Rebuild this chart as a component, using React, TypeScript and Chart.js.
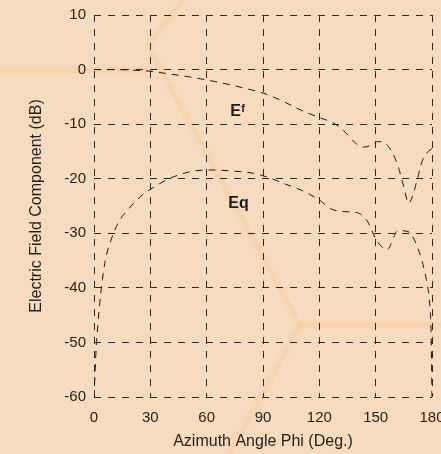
import React, { useEffect, useRef } from "react";
import { Chart, registerables } from "chart.js";

Chart.register(...registerables);

// ---- data ----
const xTickValues = [0, 30, 60, 90, 120, 150, 180];
const yTickValues = [10, 0, -10, -20, -30, -40, -50, -60];

const efPhi = [0, 10, 20, 30, 40, 50, 60, 70, 80, 90, 100, 110, 120, 127, 132, 136, 140, 144, 148, 151, 155, 159, 162, 165, 167.5, 170, 172, 175, 178, 180];
const efVal = [0, 0, -0.1, -0.3, -0.8, -1.3, -1.9, -2.6, -3.4, -4.3, -5.7, -7.4, -8.8, -9.7, -10.9, -12.3, -13.7, -14.2, -13.8, -13.2, -13.5, -15.3, -17.8, -21.5, -24.5, -22.8, -20.3, -16.6, -15.0, -14.5];

const eqPhi = [0, 0.5, 1, 2, 3, 4.5, 6, 9, 13, 18, 25, 33, 42, 53, 63, 74, 85, 93, 102, 111, 120, 126, 132, 137, 142, 146, 150, 156, 162, 168, 171, 174, 177, 178.5, 179.5, 180];
const eqVal = [-60, -56, -52, -47, -43, -38.5, -35, -31.3, -28, -25.7, -23.2, -21.3, -19.7, -18.6, -18.4, -18.6, -19, -19.8, -21, -22.2, -23.9, -25.5, -26, -26.1, -26.5, -28, -31, -33, -29.5, -29.8, -31.5, -34.3, -38.5, -42, -48, -60];

const labelEf = { text: "E", sub: "f", phi: 72.5, val: -8.5 };
const labelEq = { text: "Eq", phi: 71.5, val: -25.4 };

const FONT = '"Liberation Sans", Arial, sans-serif';
const BG = "#f6dbbf";

const toPoints = (xs: number[], ys: number[]) => xs.map((x, i) => ({ x, y: ys[i] }));

const backgroundPlugin = {
  id: "bgDecor",
  beforeDraw(chart: any) {
    const { ctx, width, height } = chart;
    ctx.save();
    ctx.fillStyle = BG;
    ctx.fillRect(0, 0, width, height);
    // faint orange watermark streaks of the scanned page
    ctx.strokeStyle = "rgba(250, 190, 120, 0.25)";
    ctx.lineWidth = 6;
    ctx.lineCap = "round";
    ctx.lineJoin = "round";
    const w = width, h = height;
    ctx.beginPath();
    ctx.moveTo(0, h * 0.154);
    ctx.lineTo(w * 0.33, h * 0.154);
    ctx.stroke();
    ctx.beginPath();
    ctx.moveTo(w * 0.415, 0);
    ctx.lineTo(w * 0.335, h * 0.1);
    ctx.lineTo(w * 0.68, h * 0.716);
    ctx.lineTo(w * 0.52, h);
    ctx.stroke();
    ctx.beginPath();
    ctx.moveTo(w * 0.68, h * 0.716);
    ctx.lineTo(w, h * 0.716);
    ctx.stroke();
    ctx.restore();
  },
};

const labelPlugin = {
  id: "curveLabels",
  afterDatasetsDraw(chart: any) {
    const { ctx, scales } = chart;
    const xs = scales.x, ys = scales.y;
    ctx.save();
    ctx.fillStyle = "#1c1c1c";
    ctx.textBaseline = "alphabetic";
    ctx.textAlign = "left";
    // Ef
    let px = xs.getPixelForValue(labelEf.phi);
    let py = ys.getPixelForValue(labelEf.val);
    ctx.font = `bold 16px ${FONT}`;
    ctx.fillText(labelEf.text, px, py);
    const wE = ctx.measureText(labelEf.text).width;
    ctx.font = `bold 11px ${FONT}`;
    ctx.fillText(labelEf.sub, px + wE + 0.5, py - 4);
    // Eq
    px = xs.getPixelForValue(labelEq.phi);
    py = ys.getPixelForValue(labelEq.val);
    ctx.font = `bold 16px ${FONT}`;
    ctx.fillText(labelEq.text, px, py);
    ctx.restore();
  },
};

export default function App() {
  const canvasRef = useRef<HTMLCanvasElement | null>(null);

  useEffect(() => {
    document.body.style.margin = "0";
    document.body.style.background = BG;
    const canvas = canvasRef.current;
    if (!canvas) return;
    const lineStyle = {
      borderColor: "#1a1a1a",
      borderWidth: 1,
      borderDash: [7, 6],
      pointRadius: 0,
      fill: false,
      cubicInterpolationMode: "monotone" as const,
    };
    const chart = new Chart(canvas, {
      type: "line",
      data: {
        datasets: [
          { label: "Ef", data: toPoints(efPhi, efVal), ...lineStyle },
          { label: "Eq", data: toPoints(eqPhi, eqVal), ...lineStyle },
        ],
      },
      options: {
        responsive: false,
        animation: false,
        devicePixelRatio: 1,
        layout: { padding: { left: 0, top: 15, right: 9, bottom: 0 } },
        plugins: { legend: { display: false }, tooltip: { enabled: false } },
        scales: {
          x: {
            type: "linear",
            min: 0,
            max: 180,
            afterBuildTicks: (scale: any) => {
              scale.ticks = xTickValues.map((v) => ({ value: v }));
            },
            afterFit: (scale: any) => {
              scale.height = 57;
              scale.paddingLeft = 0;
              scale.paddingRight = 0;
            },
            grid: {
              color: "#2a2a2a",
              lineWidth: 1,
              drawTicks: false,
            },
            border: { display: false, dash: [7, 7] },
            ticks: {
              color: "#1f1f1f",
              font: { family: FONT, size: 15 },
              padding: 12,
              maxRotation: 0,
            },
            title: {
              display: true,
              text: "Azimuth Angle Phi (Deg.)",
              color: "#1f1f1f",
              font: { family: FONT, size: 16 },
              padding: { top: 0, bottom: 3 },
            },
          },
          y: {
            type: "linear",
            min: -60,
            max: 10,
            afterBuildTicks: (scale: any) => {
              scale.ticks = yTickValues.map((v) => ({ value: v }));
            },
            afterFit: (scale: any) => {
              scale.width = 94;
              scale.paddingTop = 0;
              scale.paddingBottom = 0;
            },
            grid: {
              color: "#2a2a2a",
              lineWidth: 1,
              drawTicks: false,
            },
            border: { display: false, dash: [7, 7] },
            ticks: {
              color: "#1f1f1f",
              font: { family: FONT, size: 15 },
              padding: 8,
            },
            title: {
              display: true,
              text: "Electric Field Component (dB)",
              color: "#1f1f1f",
              font: { family: FONT, size: 16 },
              padding: { top: 27, bottom: 0 },
            },
          },
        },
      },
      plugins: [backgroundPlugin, labelPlugin],
    } as any);

    (chart.options.scales as any).x.grid.borderDash = [7, 7];
    chart.update();

    return () => chart.destroy();
  }, []);

  return (
    <div style={{ width: 441, height: 454, background: BG }}>
      <canvas ref={canvasRef} width={441} height={454} style={{ display: "block" }} />
    </div>
  );
}
